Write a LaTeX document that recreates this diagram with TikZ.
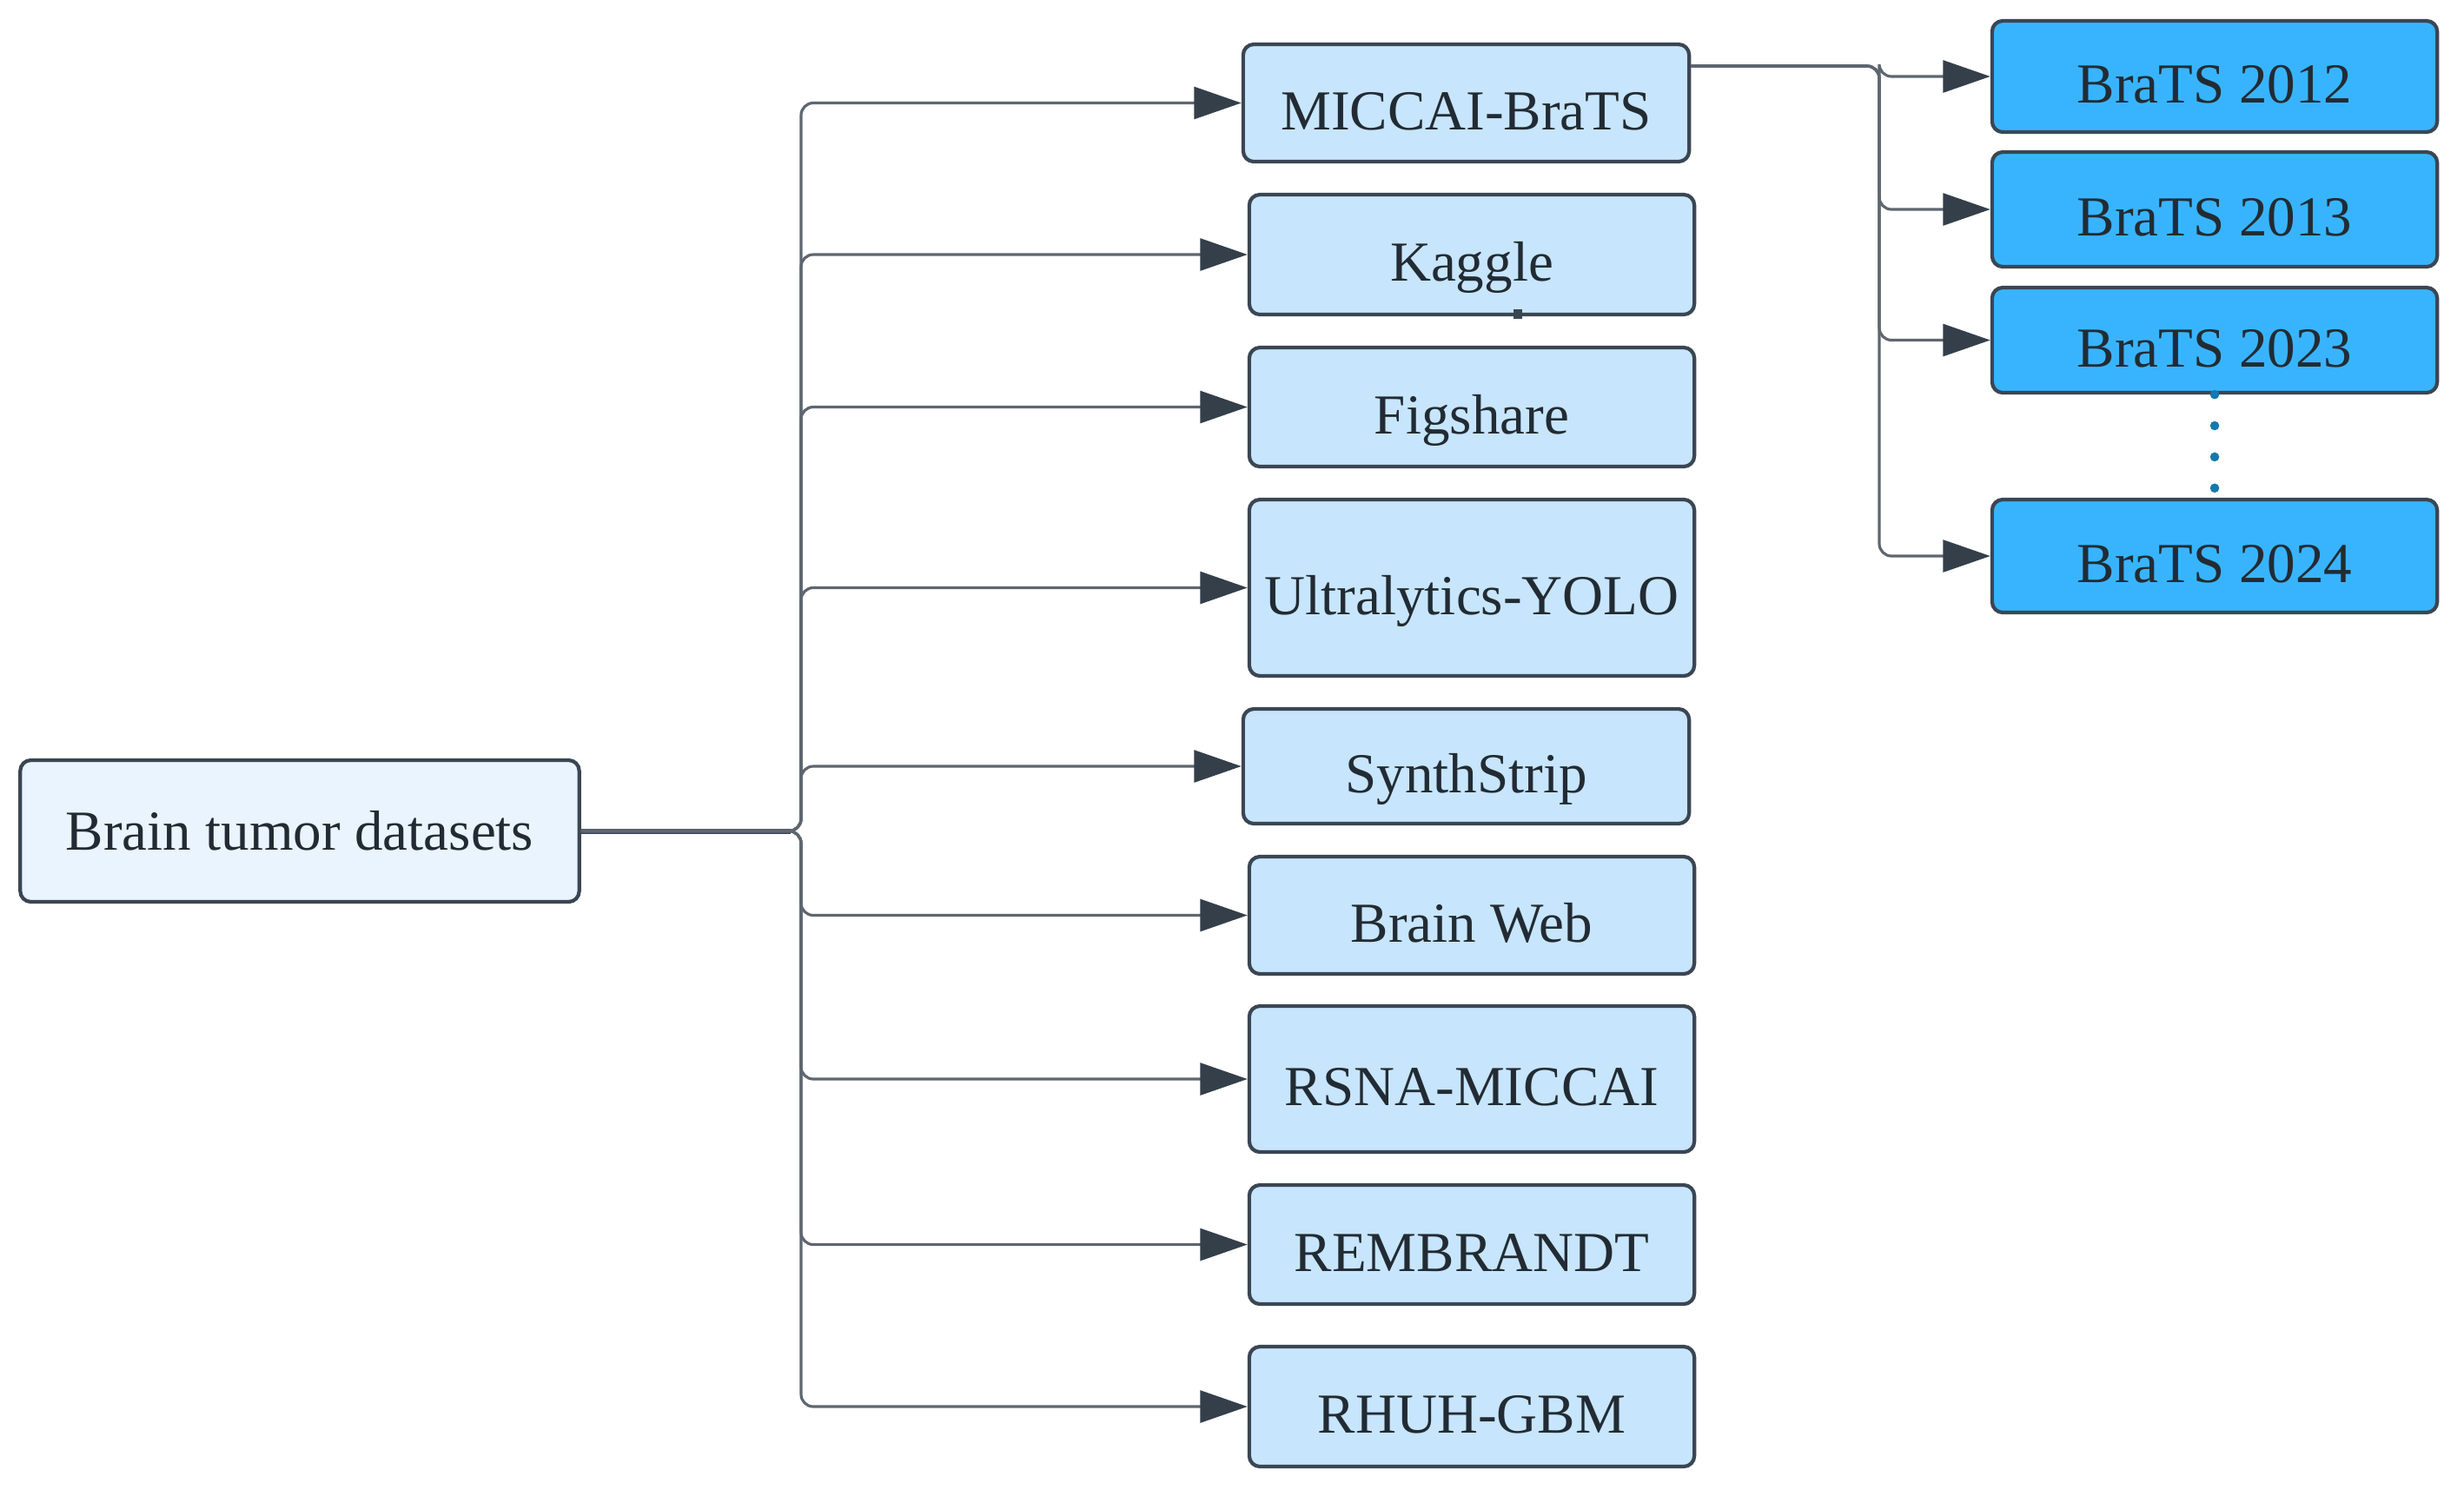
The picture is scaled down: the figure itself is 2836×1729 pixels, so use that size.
\documentclass[tikz,border=0pt]{standalone}
\usepackage{fontspec}
\setmainfont{Liberation Serif}
\usetikzlibrary{arrows.meta,calc}
\definecolor{rootfill}{HTML}{E9F4FF}
\definecolor{midfill}{HTML}{C7E5FD}
\definecolor{yearfill}{HTML}{38B4FE}
\definecolor{border}{HTML}{3B4653}
\definecolor{txt}{HTML}{222B33}
\definecolor{linec}{HTML}{5E6670}
\definecolor{arrowc}{HTML}{343F4A}
\definecolor{dotc}{HTML}{1479AE}
\begin{document}
\begin{tikzpicture}[x=0.01cm,y=-0.01cm,
  box/.style={draw=border, line width=1.2pt, rounded corners=3.5pt, inner sep=0pt,
    text=txt, font=\fontsize{18.5}{22}\selectfont, align=center},
  rootbox/.style={box, fill=rootfill},
  lowtext/.style={text height=19pt, text depth=1.4pt},
  midbox/.style={box, lowtext, fill=midfill, minimum width=5.12cm},
  yearbox/.style={box, lowtext, fill=yearfill, minimum width=5.12cm},
  conn/.style={draw=linec, line width=0.9pt, rounded corners=4pt,
    -{Triangle[length=15.5pt,width=10.5pt,color=arrowc]}},
  dotline/.style={draw=dotc, line width=3pt, line cap=round, dash pattern=on 0pt off 10.2pt}
]
\useasboundingbox (0,0) rectangle (2836,1729);

% root
\node[rootbox, minimum width=6.43cm, minimum height=1.63cm] (root) at (345,956.5) {Brain tumor datasets};

% middle column
\node[midbox, minimum width=5.13cm, minimum height=1.35cm] (m1) at (1687.5,118.5) {MICCAI-BraTS};
\node[midbox, minimum height=1.38cm] (m2) at (1694,293) {Kaggle};
\node[midbox, minimum height=1.37cm] (m3) at (1694,468.5) {Figshare};
\node[midbox, minimum height=2.03cm] (m4) at (1694,676.5) {Ultralytics-YOLO};
\node[midbox, minimum width=5.13cm, minimum height=1.32cm] (m5) at (1687.5,882) {SynthStrip};
\node[midbox, minimum height=1.35cm] (m6) at (1694,1053.5) {Brain Web};
\node[midbox, minimum height=1.68cm] (m7) at (1694,1242) {RSNA-MICCAI};
\node[midbox, minimum height=1.37cm] (m8) at (1694,1432.5) {REMBRANDT};
\node[midbox, minimum height=1.38cm] (m9) at (1694,1619) {RHUH-GBM};

% right column
\node[yearbox, minimum height=1.28cm] (b1) at (2549,88) {BraTS 2012};
\node[yearbox, minimum height=1.32cm] (b2) at (2549,241) {BraTS 2013};
\node[yearbox, minimum height=1.21cm] (b3) at (2549,391.5) {BraTS 2023};
\node[yearbox, minimum height=1.30cm] (b4) at (2549,640) {BraTS 2024};

% trunk connectors
\coordinate (trx) at (922,0);
\coordinate (tr) at (root.east -| trx);
\draw[draw=border, line width=1.7pt] (root.east) -- ($(tr)+(-12,0)$);
\foreach \m in {m1,m2,m3,m4,m5,m6,m7,m8,m9}{
  \draw[conn] (root.east) -- (tr) |- (\m.west);
}

% MICCAI-BraTS to years
\coordinate (lvl) at (0,76);
\coordinate (bx) at (2163,0);
\foreach \b in {b1,b2,b3,b4}{
  \draw[conn] (m1.east |- lvl) -- (bx |- lvl) |- (\b.west);
}

% dotted continuation
\draw[dotline] (b3.south) -- (b4.north);

% small mark on Kaggle box
\fill[border] (1742,356) rectangle (1752,367);
\end{tikzpicture}
\end{document}
